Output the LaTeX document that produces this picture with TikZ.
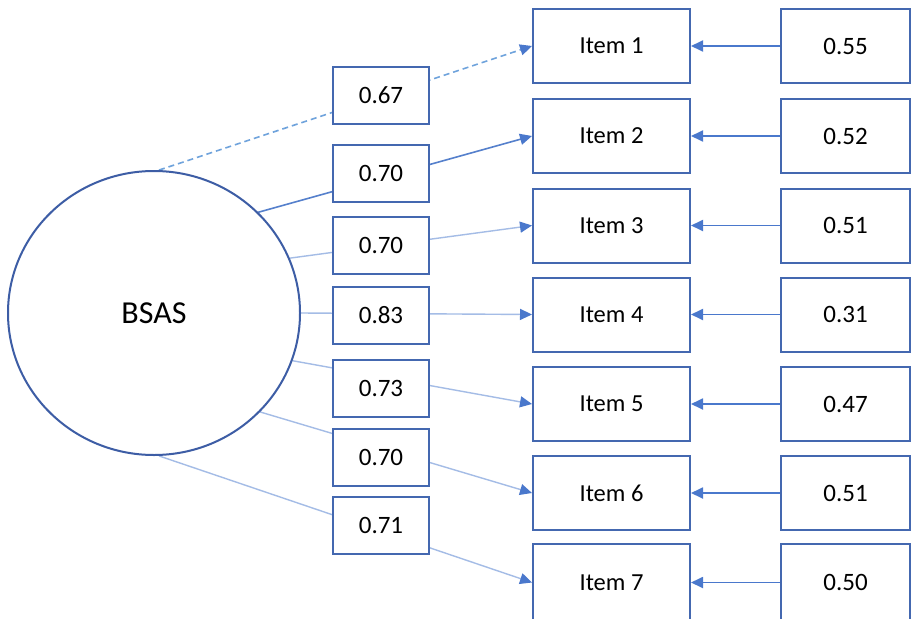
\documentclass[tikz,border=0pt]{standalone}
\usepackage{fontspec}
\setmainfont{Carlito}
\usetikzlibrary{arrows.meta,shapes.geometric,backgrounds}
\definecolor{boxblue}{HTML}{4468B0}
\definecolor{circblue}{HTML}{3D5DA5}
\definecolor{midblue}{HTML}{5580CC}
\definecolor{lightblue}{HTML}{A4BCE6}
\definecolor{dashblue}{HTML}{6FA3DC}
\definecolor{arrblue}{HTML}{4A78CC}
\tikzset{
  x=1pt, y=-1pt,
  loadbox/.style={draw=boxblue, line width=2pt, fill=white, minimum width=96pt, minimum height=57pt, inner sep=0pt, font=\fontsize{25}{28}\selectfont},
  itembox/.style={draw=boxblue, line width=2pt, fill=white, minimum width=157pt, minimum height=74pt, inner sep=0pt, font=\fontsize{24.5}{28}\selectfont},
  errbox/.style={draw=boxblue, line width=2pt, fill=white, minimum width=129pt, minimum height=74pt, inner sep=0pt, font=\fontsize{25}{28}\selectfont},
  tip/.style={-{Triangle[length=12pt,width=11pt,color=arrblue]}},
  pathline/.style={line width=1.4pt, draw=lightblue, tip},
  errarrow/.style={line width=1.8pt, draw=arrblue, tip}
}
\begin{document}
\begin{tikzpicture}
\useasboundingbox (0,0) rectangle (912,618);
\node[ellipse, draw=circblue, line width=2pt, minimum width=292pt, minimum height=284pt, inner sep=0pt, font=\fontsize{32}{36}\selectfont] (bsas) at (154,313) {BSAS};

\node[loadbox] (l1) at (381,95.5) {0.67};
\node[loadbox] (l2) at (381,173.5) {0.70};
\node[loadbox] (l3) at (381,245) {0.70};
\node[loadbox] (l4) at (381,315.5) {0.83};
\node[loadbox] (l5) at (381,388.5) {0.73};
\node[loadbox] (l6) at (381,457.5) {0.70};
\node[loadbox] (l7) at (381,525.5) {0.71};

\node[itembox] (i1) at (611.5,46) {Item 1};
\node[itembox] (i2) at (611.5,136) {Item 2};
\node[itembox] (i3) at (611.5,225.5) {Item 3};
\node[itembox] (i4) at (611.5,314.5) {Item 4};
\node[itembox] (i5) at (611.5,404) {Item 5};
\node[itembox] (i6) at (611.5,493) {Item 6};
\node[itembox, minimum height=77pt] (i7) at (611.5,582.5) {Item 7};

\node[errbox] (e1) at (845.5,46) {0.55};
\node[errbox] (e2) at (845.5,136) {0.52};
\node[errbox] (e3) at (845.5,225.5) {0.51};
\node[errbox] (e4) at (845.5,314.5) {0.31};
\node[errbox] (e5) at (845.5,404) {0.47};
\node[errbox] (e6) at (845.5,493) {0.51};
\node[errbox, minimum height=77pt] (e7) at (845.5,582.5) {0.50};

\begin{scope}[on background layer]
\fill[white] (0,0) rectangle (912,618);
\draw[pathline, draw=dashblue, line width=1.6pt, dash pattern=on 6pt off 4pt] (bsas.88) -- (i1.west);
\draw[pathline, draw=midblue, line width=1.6pt] (bsas.44) -- (i2.west);
\draw[pathline] (bsas.22) -- (i3.west);
\draw[pathline] (bsas.0) -- (i4.west);
\draw[pathline] (bsas.-19.5) -- (i5.west);
\draw[pathline] (bsas.-43) -- (i6.west);
\draw[pathline] (bsas.-88) -- (i7.west);
\end{scope}

\foreach \k in {1,...,7} {
  \draw[errarrow] (e\k.west) -- (i\k.east);
}
\end{tikzpicture}
\end{document}
